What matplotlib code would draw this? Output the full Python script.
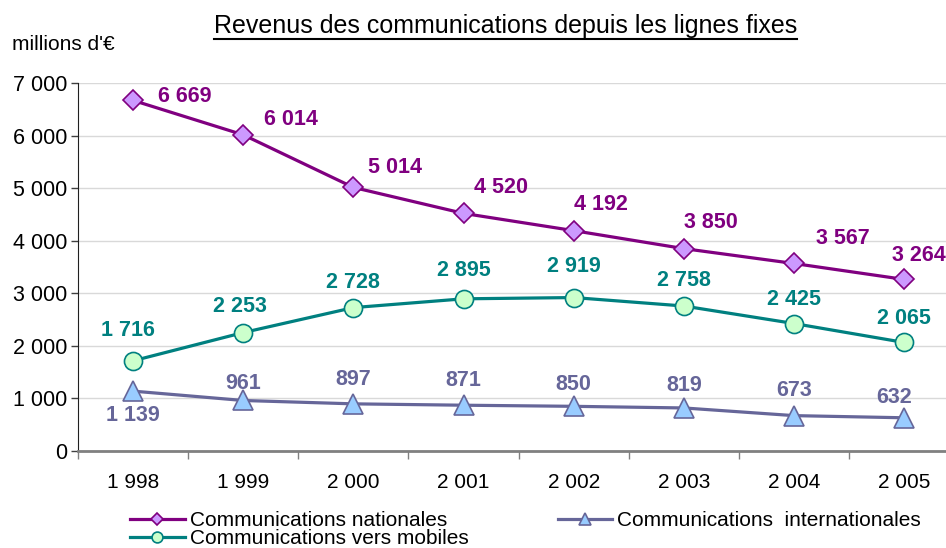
import matplotlib.pyplot as plt
from matplotlib.lines import Line2D
from matplotlib.ticker import FixedLocator, FuncFormatter

plt.rcParams['font.family'] = ['Liberation Sans', 'DejaVu Sans']

years = [1998, 1999, 2000, 2001, 2002, 2003, 2004, 2005]
nationales = [6669, 6014, 5014, 4520, 4192, 3850, 3567, 3264]
mobiles = [1716, 2253, 2728, 2895, 2919, 2758, 2425, 2065]
internationales = [1139, 961, 897, 871, 850, 819, 673, 632]

# label offsets (pixels), placed by hand like in the original
off_nat = [(52, 4), (48, 15), (42, 20), (37, 26), (27, 26), (27, 26), (49, 25), (15, 24)]
off_mob = [(-5, 30), (-3, 26), (0, 25), (0, 28), (0, 31), (0, 26), (0, 24), (0, 24)]
off_int = [(0, -24), (0, 17), (0, 24), (0, 25), (0, 22), (0, 22), (0, 25), (-10, 20)]


def fr(v):
    # french thousands separator
    return f"{int(v):,}".replace(",", " ")


fig = plt.figure(figsize=(9.46, 5.48), dpi=100)
ax = fig.add_axes([0.0825, 0.177, 0.9175, 0.6715])
x = list(range(len(years)))

ax.plot(x, nationales, color='#800080', lw=2.3, marker='D', ms=10,
        mfc='#CC99FF', mec='#800080', mew=1.2, label='Communications nationales', zorder=3)
ax.plot(x, mobiles, color='#008080', lw=2.3, marker='o', ms=13,
        mfc='#CCFFCC', mec='#008080', mew=1.2, label='Communications vers mobiles', zorder=3)
ax.plot(x, internationales, color='#666699', lw=2.3, marker='^', ms=15,
        mfc='#99CCFF', mec='#666699', mew=1.2, label='Communications  internationales', zorder=3)

lab = dict(fontsize=15.5, fontweight='bold', ha='center', va='center', textcoords='offset pixels')
for vals, offs, col in [(nationales, off_nat, '#800080'),
                        (mobiles, off_mob, '#008080'),
                        (internationales, off_int, '#666699')]:
    for i, v in enumerate(vals):
        ax.annotate(fr(v), (i, v), xytext=offs[i], color=col, **lab)

ax.set_xlim(-0.5, 7.38)
ax.set_ylim(0, 7000)
ax.set_yticks(range(0, 7001, 1000))
ax.yaxis.set_major_formatter(FuncFormatter(lambda v, p: fr(v)))
ax.set_xticks(x)
ax.set_xticklabels([fr(y) for y in years])
ax.xaxis.set_minor_locator(FixedLocator([i + 0.5 for i in range(-1, 8)]))
ax.tick_params(axis='x', which='major', length=0, pad=16, labelsize=15)
ax.tick_params(axis='x', which='minor', length=6, width=1, color='#808080', direction='out')
ax.tick_params(axis='y', length=5, width=1, color='#404040', labelsize=15.5, pad=3)
ax.grid(axis='y', color='#D9D9D9', lw=1)
ax.set_axisbelow(True)
for s in ['top', 'right']:
    ax.spines[s].set_visible(False)
ax.spines['left'].set_color('#202020')
ax.spines['bottom'].set_color('#808080')
ax.spines['bottom'].set_linewidth(2)

fig.text(0.013, 0.918, "millions d'€", fontsize=15, va='center', ha='left')
title = fig.text(0.534, 0.953, 'Revenus des communications depuis les lignes fixes',
                 fontsize=18, ha='center', va='center')
fig.canvas.draw()
bb = title.get_window_extent().transformed(fig.transFigure.inverted())
fig.add_artist(Line2D([bb.x0, bb.x1], [bb.y0 - 0.002, bb.y0 - 0.002],
                      transform=fig.transFigure, color='black', lw=1.5))

h, l = ax.get_legend_handles_labels()
fig.legend([h[0], h[1], h[2]], [l[0], l[1], l[2]], loc='lower left',
           bbox_to_anchor=(0.129, -0.016), ncol=2, frameon=False, fontsize=15,
           handlelength=2.6, handletextpad=0.25, columnspacing=4.3, labelspacing=-0.05,
           markerscale=0.6, borderaxespad=0)

fig.savefig('out.png', dpi=100)
